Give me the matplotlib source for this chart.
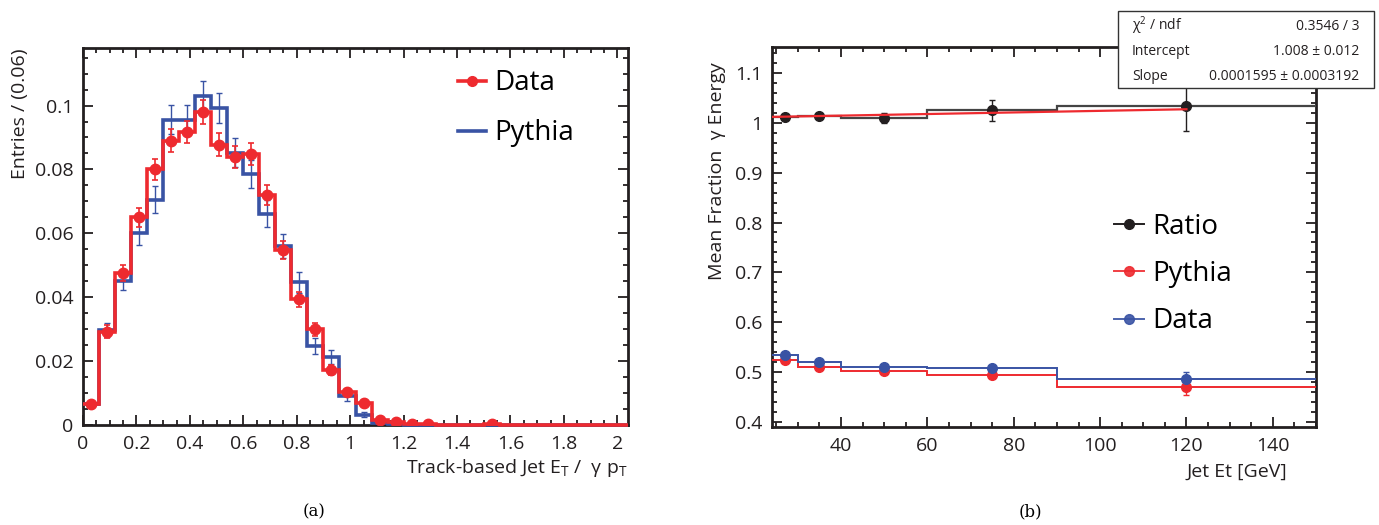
import matplotlib
matplotlib.use("Agg")
import matplotlib.pyplot as plt
from matplotlib.ticker import MultipleLocator, FuncFormatter
from matplotlib.lines import Line2D
from matplotlib.patches import Rectangle
import numpy as np

plt.rcParams['font.family'] = ['Open Sans', 'DejaVu Sans']
plt.rcParams['mathtext.default'] = 'regular'

RED = '#ee2a2f'
BLUE = '#3953a4'
BLACK = '#231f20'

# (a) track-based jet E_T / gamma p_T, bins of 0.06 from 0 to 2.04
edges_a = np.arange(35) * 0.06
data_a = [0.0065, 0.0292, 0.0475, 0.0650, 0.0800, 0.0890, 0.0918, 0.0980, 0.0878, 0.0838,
          0.0848, 0.0720, 0.0548, 0.0393, 0.0300, 0.0172, 0.0102, 0.0068, 0.0016, 0.0010,
          0.0003, 0.0002, 0, 0, 0, 0.0002, 0, 0, 0, 0, 0, 0, 0, 0]
data_a_err = [0.0008, 0.0020, 0.0025, 0.0030, 0.0033, 0.0035, 0.0035, 0.0037, 0.0035, 0.0035,
              0.0035, 0.0032, 0.0028, 0.0024, 0.0020, 0.0015, 0.0012, 0.0009, 0.0005, 0.0004,
              0.0002, 0.0001, 0, 0, 0, 0.0001, 0, 0, 0, 0, 0, 0, 0, 0]
pythia_a = [0.0066, 0.0296, 0.0452, 0.0600, 0.0705, 0.0956, 0.0956, 0.1031, 0.0993, 0.0852,
            0.0786, 0.0661, 0.0561, 0.0447, 0.0248, 0.0214, 0.0090, 0.0032, 0.0006, 0.0003,
            0.0001, 0, 0, 0, 0, 0, 0, 0, 0, 0, 0, 0, 0, 0]
pythia_a_err = [0.0010, 0.0022, 0.0030, 0.0038, 0.0042, 0.0045, 0.0045, 0.0047, 0.0047, 0.0045,
                0.0045, 0.0042, 0.0038, 0.0033, 0.0025, 0.0022, 0.0014, 0.0008, 0.0003, 0.0002,
                0.0001, 0, 0, 0, 0, 0, 0, 0, 0, 0, 0, 0, 0, 0]

# (b) mean fraction of gamma energy vs jet Et
edges_b = [24, 30, 40, 60, 90, 150]
centers_b = [27, 35, 50, 75, 120]
ratio_b = [1.0115, 1.0135, 1.0090, 1.0250, 1.0335]
ratio_err = [0.003, 0.004, 0.010, 0.021, 0.050]
pythia_b = [0.525, 0.511, 0.503, 0.495, 0.470]
pythia_err = [0.003, 0.003, 0.004, 0.005, 0.015]
data_b = [0.5335, 0.521, 0.510, 0.508, 0.4853]
data_err = [0.003, 0.003, 0.004, 0.005, 0.015]
fit_intercept = 1.008
fit_slope = 0.0001595

fmt = FuncFormatter(lambda v, p: '%g' % round(v, 6))

f = plt.figure(figsize=(13.79, 5.25), dpi=100)


def style_axes(ax):
    for s in ax.spines.values():
        s.set_linewidth(2.0)
        s.set_color(BLACK)
    ax.tick_params(which='both', direction='in', top=True, right=True, colors=BLACK,
                   labelsize=14, width=1.3)
    ax.tick_params(which='major', length=7, pad=7)
    ax.tick_params(which='minor', length=3.5)
    ax.xaxis.set_major_formatter(fmt)
    ax.yaxis.set_major_formatter(fmt)


# ---- panel (a)
ax = f.add_axes([0.0602, 0.1905, 0.3952, 0.718])
edges_a = np.asarray(edges_a)
centers_a = 0.5 * (edges_a[1:] + edges_a[:-1])
ax.stairs(pythia_a, edges_a, color=BLUE, lw=2.6, baseline=None, zorder=3, clip_on=False)
pm = np.array(pythia_a_err) > 0
ax.errorbar(centers_a[pm], np.array(pythia_a)[pm], yerr=np.array(pythia_a_err)[pm], fmt='none',
            ecolor=BLUE, elinewidth=1.0, capsize=2, capthick=1.0, zorder=3)
ax.stairs(data_a, edges_a, color=RED, lw=2.6, baseline=None, zorder=4, clip_on=False)
dm = np.array(data_a) > 0
ax.errorbar(centers_a[dm], np.array(data_a)[dm], yerr=np.array(data_a_err)[dm], fmt='o',
            color=RED, ms=7.5, elinewidth=1.2, capsize=2.5, capthick=1.2, zorder=5)
ax.set_xlim(0, 2.04)
ax.set_ylim(0, 0.118)
ax.xaxis.set_major_locator(MultipleLocator(0.2))
ax.xaxis.set_minor_locator(MultipleLocator(0.05))
ax.yaxis.set_major_locator(MultipleLocator(0.02))
ax.yaxis.set_minor_locator(MultipleLocator(0.005))
style_axes(ax)
ax.set_xlabel("Track-based Jet E$_{T}$ /  γ p$_{T}$", fontsize=14, loc='right', color=BLACK)
ax.set_ylabel("Entries / (0.06)", fontsize=14, loc='top', color=BLACK)
ax.xaxis.set_label_coords(1.0, -0.085)
ax.yaxis.set_label_coords(-0.10, 1.0)
h = [Line2D([], [], color=RED, lw=2.6, marker='o', ms=7),
     Line2D([], [], color=BLUE, lw=2.6)]
ax.legend(h, ["Data", "Pythia"], loc='upper left', bbox_to_anchor=(0.643, 1.01), frameon=False,
          fontsize=20, handlelength=1.0, handletextpad=0.3, labelspacing=0.8)

# ---- panel (b)
bx = f.add_axes([0.5598, 0.1867, 0.3945, 0.7238])
bx.stairs(ratio_b, edges_b, color='#444444', lw=1.6, baseline=None, zorder=3)
bx.stairs(pythia_b, edges_b, color=RED, lw=1.4, baseline=None, zorder=3)
bx.stairs(data_b, edges_b, color=BLUE, lw=1.4, baseline=None, zorder=3)
bx.errorbar(centers_b, ratio_b, yerr=ratio_err, fmt='o', color=BLACK, ms=7, elinewidth=1.0,
            capsize=2.5, zorder=4)
bx.errorbar(centers_b, pythia_b, yerr=pythia_err, fmt='o', color=RED, ms=7, elinewidth=1.0,
            capsize=2.5, zorder=4)
bx.errorbar(centers_b, data_b, yerr=data_err, fmt='o', color=BLUE, ms=7, elinewidth=1.0,
            capsize=2.5, zorder=4)
fx = np.array([edges_b[0], centers_b[-1]])
bx.plot(fx, fit_intercept + fit_slope * fx, color=RED, lw=1.6, zorder=5)
bx.set_xlim(24, 150)
bx.set_ylim(0.39, 1.152)
bx.xaxis.set_major_locator(MultipleLocator(20))
bx.xaxis.set_minor_locator(MultipleLocator(5))
bx.yaxis.set_major_locator(MultipleLocator(0.1))
bx.yaxis.set_minor_locator(MultipleLocator(0.02))
style_axes(bx)
bx.set_xlabel("Jet Et [GeV]", fontsize=14, loc='right', color=BLACK)
bx.set_ylabel("Mean Fraction  γ Energy", fontsize=14, loc='top', color=BLACK)
bx.xaxis.set_label_coords(0.947, -0.095)
bx.yaxis.set_label_coords(-0.085, 0.96)
h = [Line2D([], [], color=BLACK, lw=1.4, marker='o', ms=7),
     Line2D([], [], color=RED, lw=1.4, marker='o', ms=7, alpha=0.9),
     Line2D([], [], color=BLUE, lw=1.4, marker='o', ms=7, alpha=0.9)]
bx.legend(h, ["Ratio", "Pythia", "Data"], loc='upper left', bbox_to_anchor=(0.582, 0.629),
          frameon=False, fontsize=20, handlelength=1.1, handletextpad=0.3, labelspacing=0.69)

# fit statistics box
W, H = 1379.0, 525.0
f.patches.append(Rectangle((1118 / W, 1 - 88 / H), 256 / W, 77 / H, transform=f.transFigure,
                           facecolor='white', edgecolor='#333333', lw=1.0, zorder=10))
rows = [("χ$^{2}$ / ndf", "0.3546 / 3"),
        ("Intercept", "1.008 ± 0.012"),
        ("Slope", "0.0001595 ± 0.0003192")]
for i, (k, v) in enumerate(rows):
    y = 1 - (26 + 25 * i) / H
    f.text(1132 / W, y, k, fontsize=10, va='center', ha='left', color=BLACK, zorder=11)
    f.text(1359 / W, y, v, fontsize=10, va='center', ha='right', color=BLACK, zorder=11)

# captions
f.text(314 / W, 1 - 512 / H, "(a)", fontsize=12, family='DejaVu Serif', ha='center', va='center')
f.text(1030 / W, 1 - 512 / H, "(b)", fontsize=12, family='DejaVu Serif', ha='center', va='center')

plt.savefig("out.png", dpi=100)
plt.close(f)
